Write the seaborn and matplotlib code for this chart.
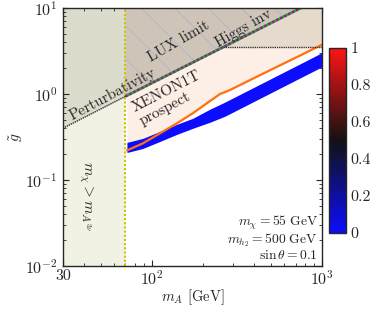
import numpy as np
import pandas as pd
import matplotlib
matplotlib.use("Agg")
import matplotlib.pyplot as plt
from matplotlib.colors import LinearSegmentedColormap
from matplotlib.cm import ScalarMappable
from matplotlib.colors import Normalize
import seaborn as sns

# ---------------- data ----------------
m_cut = 70.0                       # vertical dotted line (m_A)
pert_mA = [30.0, 70.0]             # perturbativity line
pert_g = [0.40, 0.94]
lux_mA = [70.0, 1000.0]            # LUX limit line
lux_g = [0.94, 13.3]
higgs_g = 3.49                     # Higgs invisible limit
higgs_mA = [262.0, 1000.0]

xenon_mA = [71.4, 88.6, 111.6, 140.5, 174.4, 219.6, 251.5, 288.0, 432.0, 743.0, 1000.0]
xenon_g = [0.221, 0.267, 0.349, 0.457, 0.599, 0.828, 1.0, 1.114, 1.657, 2.80, 3.75]

band_mA = [71.4, 88.6, 111.6, 140.5, 174.4, 219.6, 269.0, 432.0, 743.0, 1000.0]
band_lo = [0.209, 0.233, 0.281, 0.340, 0.400, 0.470, 0.552, 0.890, 1.536, 2.07]
band_hi = [0.274, 0.305, 0.368, 0.445, 0.523, 0.667, 0.806, 1.299, 2.24, 3.025]

xticks = [30, 100, 1000]
xticklabels = ["30", r"$10^2$", r"$10^3$"]
yticks = [0.01, 0.1, 1, 10]
yticklabels = [r"$10^{-2}$", r"$10^{-1}$", r"$10^{0}$", r"$10^{1}$"]
cb_ticks = [0, 0.2, 0.4, 0.6, 0.8, 1.0]
cb_labels = ["0", "0.2", "0.4", "0.6", "0.8", "1"]

# ---------------- style ----------------
sns.set_style("ticks")
plt.rcParams["font.family"] = ["cmr10", "DejaVu Serif"]
plt.rcParams["mathtext.fontset"] = "cm"
plt.rcParams["axes.unicode_minus"] = False
plt.rcParams["hatch.color"] = "#a6b4d0"
plt.rcParams["hatch.linewidth"] = 0.5

fig = plt.figure(figsize=(3.70, 3.09), dpi=100)
ax = fig.add_axes([0.170, 0.139, 0.700, 0.835])
cax = fig.add_axes([0.889, 0.246, 0.046, 0.599])

cmap = LinearSegmentedColormap.from_list(
    "bkr", [(0.0, "#0c0cff"), (0.5, "#121212"), (1.0, "#ff1414")])

ax.set_xscale("log")
ax.set_yscale("log")
xlo, xhi, ylo, yhi = 30, 1000, 0.01, 10

# left region
ax.fill_between([xlo, m_cut], ylo, yhi, color="#f2f2e4", lw=0, zorder=0)
ax.fill_between(pert_mA, pert_g, yhi, color="#dcdccd", lw=0, zorder=0.5)
# XENON prospect
ax.fill_between(xenon_mA, xenon_g, yhi, color="#fdeee6", lw=0, zorder=0.5)
# Higgs inv
ax.fill_between(higgs_mA, higgs_g, yhi, color="#e6dacd", lw=0, zorder=0.6)
# LUX
ax.fill_between(lux_mA, lux_g, yhi, facecolor="#cec4b8", edgecolor="#a6b4d0",
                hatch="\\", lw=0, zorder=0.7)

# blue band
ax.fill_between(band_mA, band_lo, band_hi, color=cmap(0.0), lw=0, zorder=2)

# lines
df_x = pd.DataFrame({"mA": xenon_mA, "g": xenon_g})
sns.lineplot(data=df_x, x="mA", y="g", ax=ax, color="#ff7010", lw=1.6,
             sort=False, estimator=None, zorder=3)
df_l = pd.DataFrame({"mA": lux_mA, "g": lux_g})
sns.lineplot(data=df_l, x="mA", y="g", ax=ax, color="#22aa22", lw=2.0,
             sort=False, estimator=None, zorder=3)
ax.plot(lux_mA, lux_g, color="#b000c0", lw=1.6, ls=(0, (1, 1)), zorder=3.1)
ax.plot(pert_mA, pert_g, color="#333333", lw=1.0, ls=(0, (1, 0.6)), zorder=3)
ax.plot(higgs_mA, [higgs_g, higgs_g], color="#333333", lw=1.0,
        ls=(0, (1, 0.6)), zorder=3)
ax.plot([m_cut, m_cut], [ylo, yhi], color="#c8c400", lw=1.5,
        ls=(0, (1, 1)), zorder=3)

ax.set_xlim(xlo, xhi)
ax.set_ylim(ylo, yhi)
ax.set_xticks(xticks)
ax.set_xticklabels(xticklabels, fontsize=11.5)
ax.set_yticks(yticks)
ax.set_yticklabels(yticklabels, fontsize=11.5)
ax.tick_params(which="both", direction="in", top=True, right=True)
ax.tick_params(which="major", length=4)
ax.tick_params(axis="x", which="major", pad=2)
ax.tick_params(axis="y", which="major", pad=4)
ax.tick_params(which="minor", length=2)
ax.set_xlabel(r"$m_A$ [GeV]", fontsize=10.5, labelpad=0)
ax.set_ylabel(r"$\tilde{g}$", fontsize=11, labelpad=0)
for s in ax.spines.values():
    s.set_linewidth(1.0)
    s.set_zorder(5)

# annotations
ax.text(59, 1.0, "Perturbativity", rotation=28, ha="center", va="center",
        fontsize=11, zorder=4)
ax.text(145, 4.1, "LUX limit", rotation=30, ha="center", va="center",
        fontsize=11, zorder=4)
ax.text(345, 5.8, "Higgs inv", rotation=30, ha="center", va="center",
        fontsize=11, zorder=4)
ax.text(122, 1.08, "XENON1T", rotation=27, ha="center", va="center",
        fontsize=11, zorder=4)
ax.text(119, 0.68, "prospect", rotation=28, ha="center", va="center",
        fontsize=11, zorder=4)
ax.text(41, 0.064, r"$m_\chi > m_{A^{3\nu}}$", rotation=-90, ha="center",
        va="center", fontsize=11, zorder=4)
ax.text(0.985, 0.168, r"$m_\chi = 55\ \mathrm{GeV}$", transform=ax.transAxes,
        ha="right", va="center", fontsize=9.8, zorder=4)
ax.text(0.985, 0.102, r"$m_{h_2} = 500\ \mathrm{GeV}$", transform=ax.transAxes,
        ha="right", va="center", fontsize=9.8, zorder=4)
ax.text(0.985, 0.040, r"$\sin\theta = 0.1$", transform=ax.transAxes,
        ha="right", va="center", fontsize=9.8, zorder=4)

# colorbar
sm = ScalarMappable(norm=Normalize(0, 1), cmap=cmap)
cb = fig.colorbar(sm, cax=cax, ticks=cb_ticks)
cb.ax.set_yticklabels(cb_labels, fontsize=11.5)
cb.ax.tick_params(direction="in", length=3, width=0.8)
cb.outline.set_linewidth(1.0)

fig.savefig("out.png", dpi=100)
